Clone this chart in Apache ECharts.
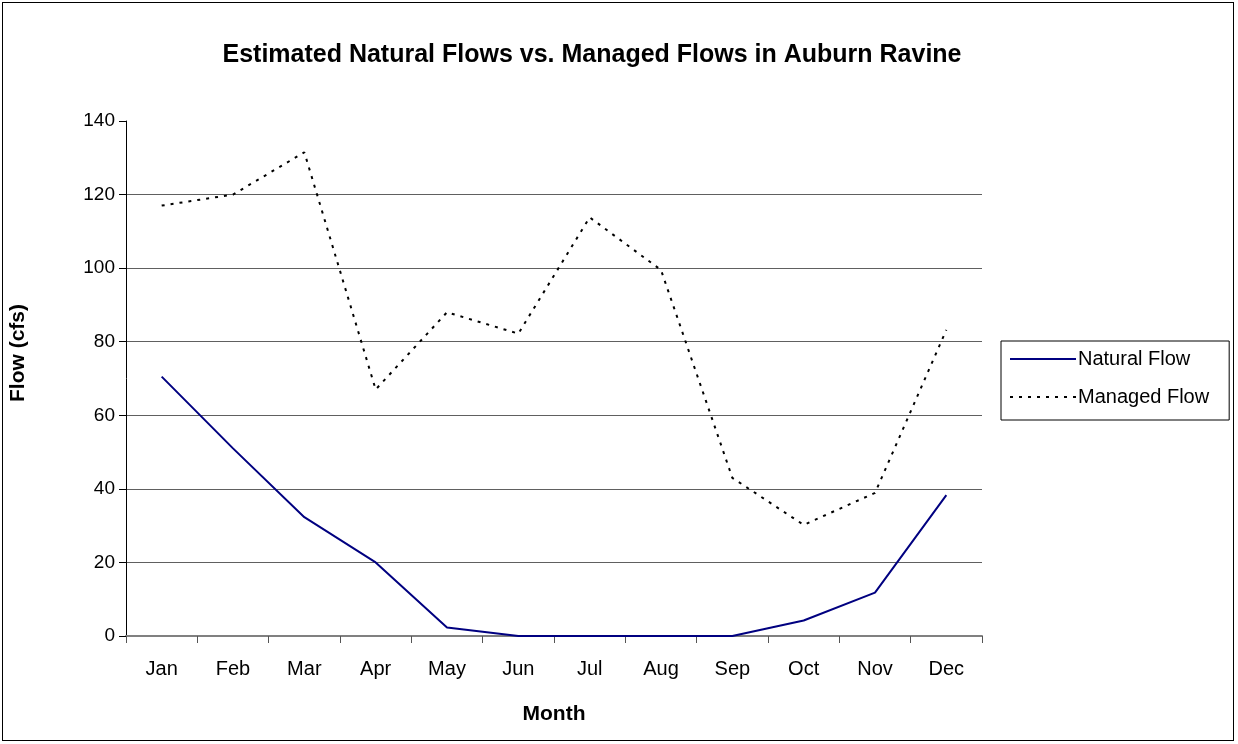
<!DOCTYPE html>
<html>
<head>
<meta charset="utf-8">
<script src="https://cdn.jsdelivr.net/npm/echarts@6/dist/echarts.min.js"></script>
<style>
html, body { margin: 0; padding: 0; background: #fff; }
#frame {
    position: absolute; left: 2px; top: 2px; width: 1230px; height: 737px;
    border: 1px solid #000;
}
#chart { position: absolute; left: 0; top: 0; width: 1238px; height: 744px; }
</style>
</head>
<body>
<div id="frame"></div>
<div id="chart"></div>
<script>
// months on the category axis
var months = ["Jan", "Feb", "Mar", "Apr", "May", "Jun", "Jul", "Aug", "Sep", "Oct", "Nov", "Dec"];
// estimated flows (cfs)
var naturalFlow = [70.5, 51, 32.3, 20, 2.3, 0, 0, 0, 0, 4.2, 11.8, 38.3];
var managedFlow = [117, 120, 131.5, 67, 88, 82.2, 113.8, 99.5, 43, 30.2, 38.9, 83.2];

var font = "Liberation Sans, Arial, sans-serif";
var chart = echarts.init(document.getElementById("chart"));

chart.setOption({
    animation: false,
    title: {
        text: "Estimated Natural Flows vs. Managed Flows in Auburn Ravine",
        left: 587,
        top: 38,
        textAlign: "center",
        textStyle: { fontFamily: font, fontSize: 25, fontWeight: "bold", color: "#000" }
    },
    grid: { left: 126, right: 256, top: 121, bottom: 108 },
    legend: {
        orient: "vertical",
        left: 1001,
        top: 341,
        padding: [8, 20, 13, 8],
        itemGap: 18,
        itemWidth: 66,
        itemHeight: 14,
        borderColor: "#000",
        borderWidth: 1,
        itemStyle: { opacity: 0 },
        textStyle: { fontFamily: font, fontSize: 20, color: "#000", padding: [0, 0, 0, -3] },
        data: ["Natural Flow", "Managed Flow"]
    },
    graphic: [{
        type: "text",
        x: 18,
        y: 353,
        rotation: Math.PI / 2,
        style: {
            text: "Flow (cfs)",
            fontFamily: font,
            fontSize: 21,
            fontWeight: "bold",
            fill: "#000",
            align: "center",
            verticalAlign: "middle"
        }
    }],
    xAxis: {
        type: "category",
        data: months,
        boundaryGap: true,
        name: "Month",
        nameLocation: "middle",
        nameGap: 68,
        nameTextStyle: { fontFamily: font, fontSize: 21, fontWeight: "bold", color: "#000" },
        axisLine: { lineStyle: { color: "#808080", width: 2 } },
        axisTick: { show: true, length: 7, alignWithLabel: false, lineStyle: { color: "#555", width: 1 } },
        axisLabel: { fontFamily: font, fontSize: 20, color: "#000", margin: 23 }
    },
    yAxis: {
        type: "value",
        min: 0,
        max: 140,
        interval: 20,
        axisLine: { show: true, lineStyle: { color: "#000", width: 1 } },
        axisTick: { show: true, length: 7, lineStyle: { color: "#000" } },
        axisLabel: { fontFamily: font, fontSize: 19, color: "#000", margin: 11 },
        splitLine: { show: true, showMinLine: false, showMaxLine: false, lineStyle: { color: "#606060", width: 1 } }
    },
    series: [
        {
            name: "Natural Flow",
            type: "line",
            data: naturalFlow,
            symbol: "none",
            color: "#000080",
            lineStyle: { color: "#000080", width: 2 }
        },
        {
            name: "Managed Flow",
            type: "line",
            data: managedFlow,
            symbol: "none",
            color: "#000",
            lineStyle: { color: "#000", width: 2, type: [3, 6] }
        }
    ]
});
</script>
</body>
</html>
